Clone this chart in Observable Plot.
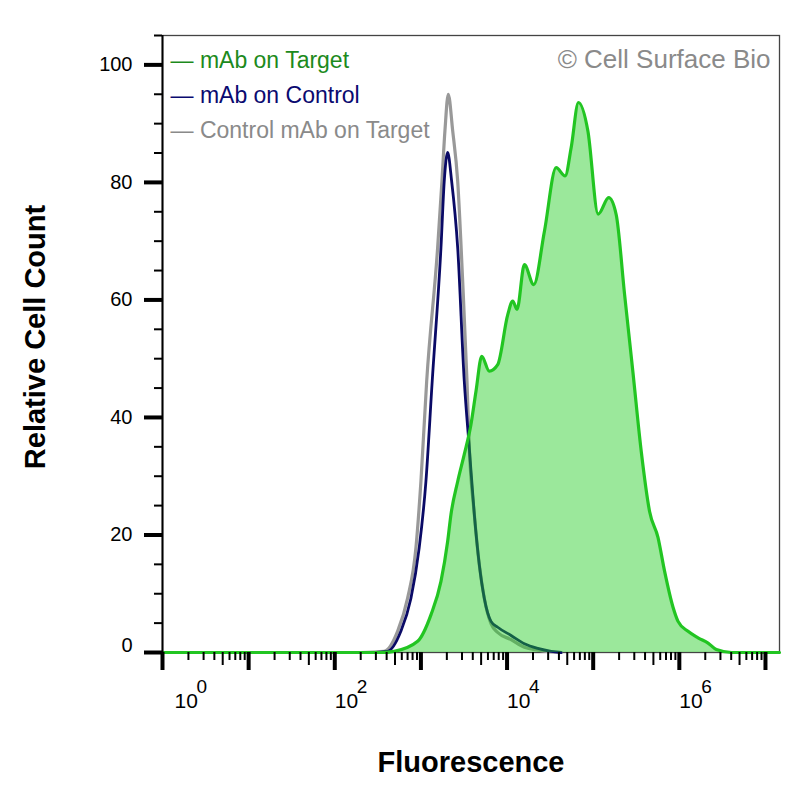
<!DOCTYPE html>
<html><head><meta charset="utf-8">
<script src="https://cdn.jsdelivr.net/npm/d3@7"></script>
<script src="https://cdn.jsdelivr.net/npm/@observablehq/plot@0.6"></script>
<style>body{margin:0;background:#fff}</style>
</head><body><div id="chart"></div>
<script>
// mAb on Target (green, filled)
const targetFluor = [1, 300, 343, 489, 916, 1307, 1709, 2043, 2233, 2672, 3186, 3811, 4363, 5081, 6221, 7793, 10190, 11640, 13060, 15900, 20420, 27160, 37150, 47230, 55460, 67450, 86700, 114300, 151400, 185000, 231200, 289700, 361400, 451500, 565000, 674800, 845000, 966000, 1262000, 1649000, 2156000, 2692000, 4024000, 14550000];
const targetCount = [0, 0, 0, 0.2, 1.9, 6.4, 12.1, 18.9, 23.5, 29.1, 33.7, 38.8, 44.5, 50.4, 47.9, 49.0, 57.5, 59.8, 58.4, 66.0, 62.6, 71.7, 82.5, 81.1, 85.9, 93.6, 88.8, 74.6, 77.4, 74.5, 61.0, 47.6, 34.2, 24.0, 19.6, 13.8, 7.7, 5.3, 3.6, 2.5, 1.6, 0.5, 0, 0];

// mAb on Control (navy)
const controlFluor = [262, 410, 585, 765, 955, 1143, 1353, 1709, 1866, 2043, 2274, 2672, 3186, 3645, 4169, 4766, 5448, 6512, 7793, 11130, 15900, 22750, 32500, 42450];
const controlCount = [0, 0.2, 3.6, 9.2, 17.8, 29.1, 46.2, 68.9, 80.2, 85.1, 80.2, 68.9, 46.2, 34.8, 23.5, 14.9, 9.2, 5.3, 4.3, 2.9, 1.5, 0.7, 0.2, 0];

// Control mAb on Target (grey)
const isoFluor = [200, 374, 536, 700, 875, 1000, 1167, 1564, 1754, 1901, 2077, 2337, 2672, 3053, 3427, 3645, 4169, 4766, 5448, 6512, 7793, 11130, 15900, 22750, 32500, 42450];
const isoCount = [0, 0.2, 3.6, 9.2, 17.8, 29.1, 46.2, 68.9, 80.2, 88.8, 95.0, 88.8, 80.2, 63.2, 46.2, 34.8, 23.5, 14.9, 9.2, 4.9, 3.4, 2.2, 0.9, 0.4, 0.1, 0];

const legendLabels = ["— mAb on Target", "— mAb on Control", "— Control mAb on Target"];
const legendColors = ["#1c8a1c", "#0a0a70", "#8a8a8a"];

const xMajorTicks = [1, 1e1, 1e2, 1e3, 1e4, 1e5, 1e6, 1e7];
const xLabelValues = [1e2, 1e4, 1e6];
const xLabelExponents = ["2", "4", "6"];
const xFirstLabel = [1];
const xFirstExponent = ["0"];
const xMidTicks = xMajorTicks.map(d => d * 5).filter(d => d < 1.455e7);
const xMinorTicks = [];
for (const m of xMajorTicks) for (const k of [2, 3, 4, 6, 7, 8, 9]) if (m * k < 1.455e7) xMinorTicks.push(m * k);

const yMajorTicks = [0, 20, 40, 60, 80, 100];
const yLabels = [20, 40, 60, 80, 100];
const yMinorTicks = [5, 10, 15, 25, 30, 35, 45, 50, 55, 65, 70, 75, 85, 90, 95, 105];

const toRows = (xs, ys) => xs.map((x, i) => ({x, y: ys[i]}));
const target = toRows(targetFluor, targetCount);
const control = toRows(controlFluor, controlCount);
const iso = toRows(isoFluor, isoCount);

const blank = () => "";
const chart = Plot.plot({
  width: 800, height: 800,
  marginLeft: 162, marginRight: 21, marginTop: 35, marginBottom: 148,
  style: {fontFamily: "'Liberation Sans', Arial, sans-serif", background: "#fff", overflow: "visible", color: "#000"},
  x: {type: "log", domain: [1, 1.455e7]},
  y: {domain: [0, 105]},
  marks: [
    Plot.frame({stroke: "#444", strokeWidth: 1.3}),
    Plot.line(iso, {x: "x", y: "y", stroke: "#999999", strokeWidth: 3.2, curve: "monotone-x"}),
    Plot.line(control, {x: "x", y: "y", stroke: "#0a0a66", strokeWidth: 2.8, curve: "monotone-x"}),
    Plot.areaY(target, {x: "x", y: "y", fill: "#22cc22", fillOpacity: 0.45, curve: "monotone-x"}),
    Plot.line(target, {x: "x", y: "y", stroke: "#22c522", strokeWidth: 3.2, curve: "monotone-x"}),
    Plot.ruleX([1], {stroke: "#000", strokeWidth: 2}),
    Plot.axisX(xMinorTicks, {anchor: "bottom", tickSize: 8, strokeWidth: 2, tickFormat: blank, label: null}),
    Plot.axisX(xMidTicks, {anchor: "bottom", tickSize: 13, strokeWidth: 2, tickFormat: blank, label: null}),
    Plot.axisX(xMajorTicks, {anchor: "bottom", tickSize: 18, strokeWidth: 4, tickFormat: blank, label: null}),
    Plot.axisY(yMinorTicks, {anchor: "left", tickSize: 8, strokeWidth: 2, tickFormat: blank, label: null}),
    Plot.axisY(yMajorTicks, {anchor: "left", tickSize: 18, strokeWidth: 4, tickFormat: blank, label: null}),
    Plot.text(yLabels, {y: d => d, frameAnchor: "left", dx: -30, textAnchor: "end", lineAnchor: "middle", text: d => String(d), fontSize: 20, fill: "#000"}),
    Plot.text([0], {y: d => d, frameAnchor: "left", dx: -30, dy: -7, textAnchor: "end", lineAnchor: "middle", text: d => String(d), fontSize: 20, fill: "#000"}),
    Plot.text(xLabelValues, {x: d => d, frameAnchor: "bottom", textAnchor: "start", lineAnchor: "middle", dy: 49, text: () => "10", fontSize: 21, fill: "#000"}),
    Plot.text(xLabelValues, {x: d => d, frameAnchor: "bottom", textAnchor: "start", lineAnchor: "middle", dx: 22, dy: 34, text: (d, i) => xLabelExponents[i], fontSize: 19, fill: "#000"}),
    Plot.text(xFirstLabel, {x: d => d, frameAnchor: "bottom", textAnchor: "start", lineAnchor: "middle", dx: 12, dy: 49, text: () => "10", fontSize: 21, fill: "#000"}),
    Plot.text(xFirstLabel, {x: d => d, frameAnchor: "bottom", textAnchor: "start", lineAnchor: "middle", dx: 34, dy: 34, text: (d, i) => xFirstExponent[i], fontSize: 19, fill: "#000"}),
    Plot.text(["Fluorescence"], {frameAnchor: "bottom", lineAnchor: "middle", textAnchor: "middle", dy: 110, text: d => d, fontSize: 29, fontWeight: "bold", fill: "#000"}),
    Plot.text(["Relative Cell Count"], {frameAnchor: "left", lineAnchor: "middle", textAnchor: "middle", dx: -127, dy: -7, rotate: -90, text: d => d, fontSize: 29, fontWeight: "bold", fill: "#000"}),
    ...legendLabels.map((t, i) => Plot.text([t], {frameAnchor: "top-left", dx: 8, dy: 25 + 35 * i, textAnchor: "start", lineAnchor: "middle", text: d => d, fontSize: 23, fill: legendColors[i]})),
    Plot.text(["© Cell Surface Bio"], {frameAnchor: "top-right", dx: -9, dy: 24, textAnchor: "end", lineAnchor: "middle", text: d => d, fontSize: 26, fill: "#8a8a8a"})
  ]
});
document.getElementById("chart").append(chart);
</script>
</body></html>
